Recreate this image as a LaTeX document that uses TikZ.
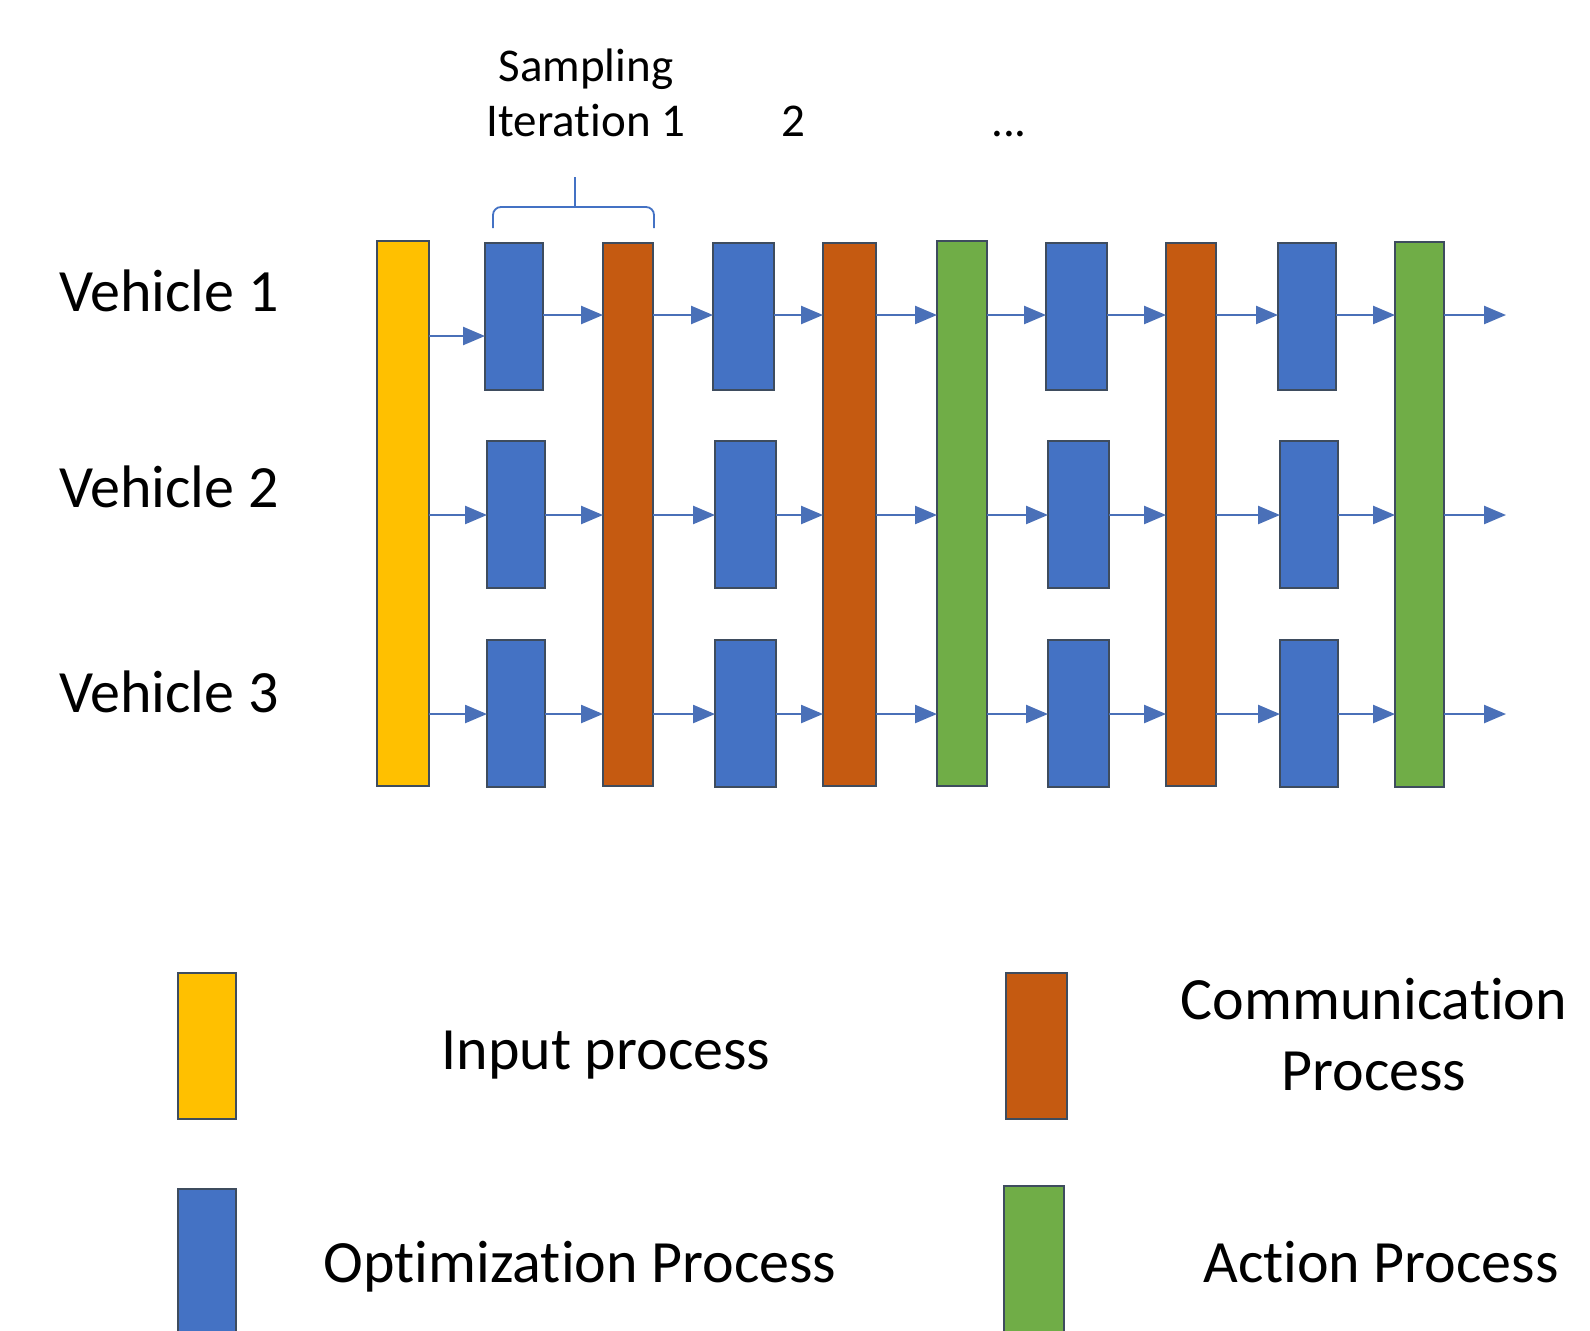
\documentclass[tikz,border=0pt]{standalone}
\usepackage{fontspec}
\setmainfont{Carlito}[Ligatures={NoCommon}]
\usetikzlibrary{arrows.meta}

\definecolor{inyel}{HTML}{FFC000}
\definecolor{optblue}{HTML}{4472C4}
\definecolor{comorg}{HTML}{C55A11}
\definecolor{actgrn}{HTML}{70AD47}
\definecolor{edgec}{HTML}{3E4C5E}
\definecolor{flowc}{HTML}{4A70B8}

\tikzset{
  bar/.style={draw=edgec, line width=1pt, inner sep=0pt, outer sep=0pt},
  inbar/.style={bar, fill=inyel},
  optbox/.style={bar, fill=optblue},
  combar/.style={bar, fill=comorg},
  actbar/.style={bar, fill=actgrn},
  flow/.style={draw=flowc, line width=1.2pt, -{Triangle[length=11pt,width=9pt]}},
  bigtxt/.style={font=\fontsize{30pt}{36pt}\selectfont, inner sep=0pt, anchor=base},
  smalltxt/.style={font=\fontsize{23.5pt}{28pt}\selectfont, inner sep=0pt, anchor=base},
}

\begin{document}
\begin{tikzpicture}[x=0.5pt, y=-0.5pt]
\clip (0,0) rectangle (1590,1330);
\fill[white] (0,0) rectangle (1590,1330);

% row heights of the three vehicle lines
\coordinate (r1) at (0,315);
\coordinate (r2) at (0,515);
\coordinate (r3) at (0,714);
\coordinate (r0) at (0,336);

% labels on the left
\node[bigtxt, anchor=base west] (v1) at (59,311) {Vehicle 1};
\node[bigtxt, anchor=base west] (v2) at (59,507) {Vehicle 2};
\node[bigtxt, anchor=base west] (v3) at (59,712) {Vehicle 3};

% input bar
\node[inbar, minimum width=26pt, minimum height=272.5pt] (inp) at (403,513.5) {};

% optimization boxes: columns 1..4, rows 1..3
\foreach \c/\x/\w in {1/514/29pt, 2/743.5/30.5pt, 3/1076.5/30.5pt, 4/1307/29pt}{
  \node[optbox, minimum width=\w, minimum height=73.5pt] (o\c1) at (\x,316.5) {};
  \node[optbox, minimum width=\w, minimum height=73.5pt] (o\c2) at (\x+2,514.5) {};
  \node[optbox, minimum width=\w, minimum height=73.5pt] (o\c3) at (\x+2,713) {};
}

% communication and action bars spanning all vehicles
\node[combar, minimum width=25pt, minimum height=271.5pt] (c1) at (628,514.5) {};
\node[combar, minimum width=26.5pt, minimum height=271.5pt] (c2) at (849.5,514.5) {};
\node[actbar, minimum width=25pt, minimum height=272.5pt] (a1) at (962,513.5) {};
\node[combar, minimum width=25pt, minimum height=271.5pt] (c3) at (1191,514.5) {};
\node[actbar, minimum width=24.5pt, minimum height=272.5pt] (a2) at (1419.5,514.5) {};

% free ends of the outgoing arrows
\coordinate (e1) at (1506,315);
\coordinate (e2) at (1506,515);
\coordinate (e3) at (1506,714);

% arrows from the input bar
\draw[flow] (inp.east |- r0) -- (o11.west |- r0);
\draw[flow] (inp.east |- r2) -- (o12.west |- r2);
\draw[flow] (inp.east |- r3) -- (o13.west |- r3);

% arrows along each vehicle line
\foreach \r in {1,2,3}{
  \draw[flow] (o1\r.east |- r\r) -- (c1.west |- r\r);
  \draw[flow] (c1.east |- r\r) -- (o2\r.west |- r\r);
  \draw[flow] (o2\r.east |- r\r) -- (c2.west |- r\r);
  \draw[flow] (c2.east |- r\r) -- (a1.west |- r\r);
  \draw[flow] (a1.east |- r\r) -- (o3\r.west |- r\r);
  \draw[flow] (o3\r.east |- r\r) -- (c3.west |- r\r);
  \draw[flow] (c3.east |- r\r) -- (o4\r.west |- r\r);
  \draw[flow] (o4\r.east |- r\r) -- (a2.west |- r\r);
  \draw[flow] (a2.east |- r\r) -- (e\r);
}

% iteration labels and bracket
\node[smalltxt] (samp) at (586,81) {Sampling};
\node[smalltxt] (it1) at (586,136) {Iteration 1};
\node[smalltxt] (it2) at (793,136) {2};
\node[smalltxt] (itn) at (1009,136) {...};
\coordinate (bl) at (493,228);
\coordinate (br) at (654,228);
\coordinate (bt) at (575,177);
\draw[optblue, line width=0.9pt, rounded corners=4pt]
  (bl) -- (493,207) -- (654,207) -- (br);
\draw[optblue, line width=0.9pt] (575,207) -- (bt);

% legend
\node[inbar, minimum width=29pt, minimum height=73pt] (lgin) at (207,1046) {};
\node[bigtxt] (lgintxt) at (606,1069) {Input process};
\node[optbox, minimum width=29pt, minimum height=76pt] (lgopt) at (207,1265) {};
\node[bigtxt] (lgopttxt) at (580,1282) {Optimization Process};
\node[combar, minimum width=30.5pt, minimum height=73pt] (lgcom) at (1036.5,1046) {};
\node[bigtxt] (lgcomtxt) at (1374,1019) {Communication};
\node[bigtxt] (lgcomtxt2) at (1374,1090) {Process};
\node[actbar, minimum width=30pt, minimum height=76pt] (lgact) at (1034,1262) {};
\node[bigtxt] (lgacttxt) at (1381,1282) {Action Process};
\end{tikzpicture}
\end{document}
